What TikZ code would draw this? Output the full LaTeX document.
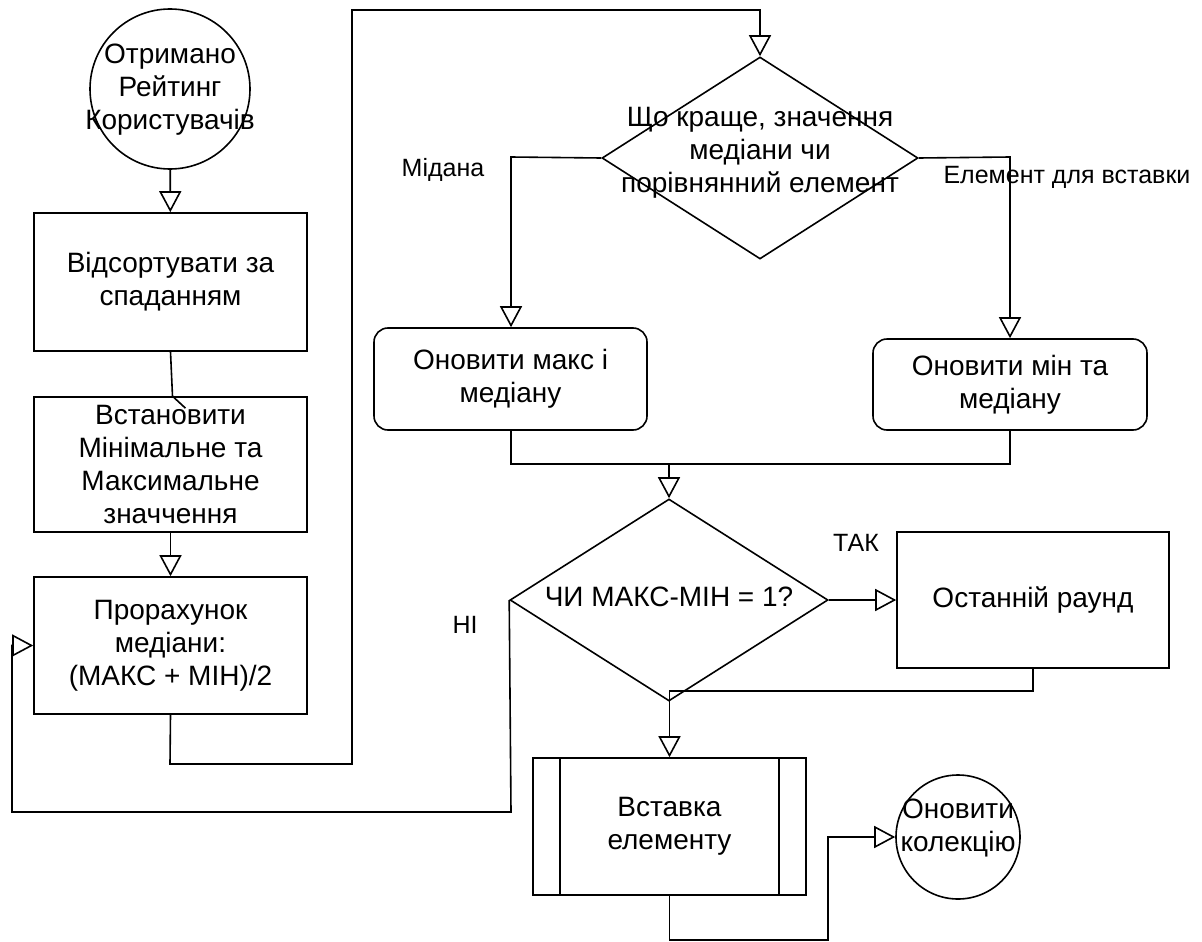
\documentclass[tikz,border=0pt]{standalone}
\usepackage{fontspec}
\setmainfont{Liberation Sans}
\usetikzlibrary{arrows.meta,shapes.geometric,calc}
\begin{document}
\begin{tikzpicture}[x=1pt,y=-1pt,line width=1.6pt,
  every node/.style={font=\fontsize{28}{33}\selectfont,align=center,inner sep=0pt},
  rbox/.style={draw,rectangle,rounded corners=14pt},
  dia/.style={draw,diamond},
  circ/.style={draw,circle},
  lbl/.style={font=\fontsize{25}{30}\selectfont},
  arr/.style={-{Triangle[open,length=21pt,width=22pt]}}]
\useasboundingbox (0,0) rectangle (1202,942);
% nodes
\node[circ,minimum size=160pt] (c1) at (170,89) {};
\node (c1t) at (170,90) {Отримано\\Рейтинг\\Користувачів};
\node[draw,minimum width=273pt,minimum height=138pt] (b1) at (170.5,282) {Відсортувати за\\спаданням};
\node[draw,minimum width=273pt,minimum height=135pt] (b2) at (170.5,464.5) {Встановити\\Мінімальне та\\Максимальне\\значчення};
\node[draw,minimum width=273pt,minimum height=137pt] (b3) at (170.5,645.5) {Прорахунок\\медіани:\\(МАКС + МІН)/2};
\node[dia,minimum width=316pt,minimum height=202pt] (d1) at (760,158) {};
\node (d1t) at (760,153) {Що краще, значення\\медіани чи\\порівнянний елемент};
\node[rbox,minimum width=273pt,minimum height=102pt] (bl) at (510.5,379) {Оновити макс і\\медіану};
\node[rbox,minimum width=274pt,minimum height=91pt] (br) at (1010,384.5) {Оновити мін та\\медіану};
\node[dia,minimum width=318pt,minimum height=202pt] (d2) at (669,600) {};
\node (d2t) at (669,597) {ЧИ МАКС-МІН = 1?};
\node[draw,minimum width=272pt,minimum height=136pt] (bz) at (1033,600) {Останній раунд};
\node[draw,minimum width=273pt,minimum height=137pt] (vs) at (669.5,826.5) {Вставка\\елементу};
\draw ($(vs.north west)+(28,0)$) -- ($(vs.south west)+(28,0)$);
\draw ($(vs.north east)+(-28,0)$) -- ($(vs.south east)+(-28,0)$);
\node[circ,minimum size=124pt] (c2) at (958,837) {};
\node (c2t) at (958,828) {Оновити\\колекцію};
% labels
\node[lbl] (lm) at (443,170) {Мідана};
\node[lbl] (le) at (1067,177) {Елемент для вставки};
\node[lbl] (lt) at (856,543) {ТАК};
\node[lbl] (ln) at (465,625) {НІ};
% coordinates
\coordinate (p1) at (170,764);
\coordinate (p2) at (352,764);
\coordinate (p3) at (352,10);
\coordinate (p4) at (760,10);
\coordinate (q1) at (511,157);
\coordinate (q2) at (1010,157);
\coordinate (m1) at (511,464);
\coordinate (m2) at (1010,464);
\coordinate (m3) at (669,464);
\coordinate (n1) at (511,812);
\coordinate (n2) at (12,812);
\coordinate (n3) at (12,645.5);
\coordinate (z1) at (1033,691);
\coordinate (z2) at (669.5,691);
\coordinate (v1) at (669.5,940);
\coordinate (v2) at (828,940);
\coordinate (v3) at (828,837);
% connectors
\draw[arr] (c1) -- (b1);
\draw (b1.south) -- ($(b2.north)+(2,0)$) -- ++(13,12);
\draw[arr] (b2) -- (b3);
\draw[arr] (b3.south) -- (p1) -- (p2) -- (p3) -- (p4) -- (d1.north);
\draw[arr] (d1.west) -- (q1) -- (q1 |- bl.north);
\draw[arr] (d1.east) -- (q2) -- (br.north);
\draw (bl.south -| m1) -- (m1) -- (m2) -- (br.south);
\draw[arr] (m3) -- (d2.north);
\draw[arr] (d2.east) -- (bz.west);
\draw[arr] (d2.west) -- (n1) -- (n2) -- (n3) -- (b3.west);
\draw[arr] (bz.south) -- (z1) -- (z2) -- (vs.north);
\draw[arr] (vs.south) -- (v1) -- (v2) -- (v3) -- (c2.west);
\end{tikzpicture}
\end{document}
